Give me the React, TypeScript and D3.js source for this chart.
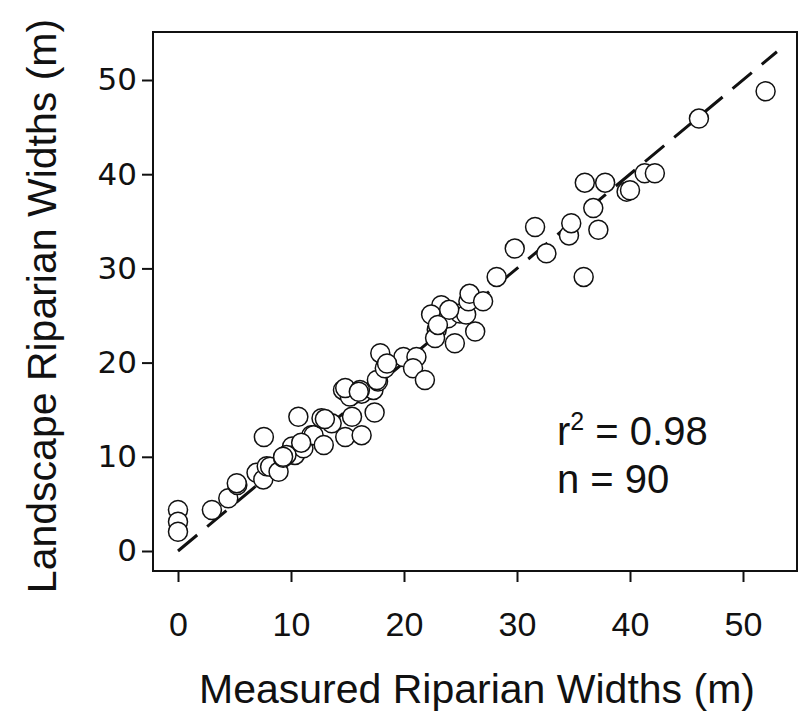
import React, { useRef, useEffect } from "react";
import * as d3 from "d3";

// measured (x) vs landscape (y) riparian widths
const measured = [
  0, 0, 0, 3.0, 4.45, 5.25, 5.2, 6.95, 7.55, 7.85,
  8.15, 8.9, 9.3, 10.1, 10.35, 11.1, 11.8, 12.0, 12.9, 12.7,
  10.65, 7.6, 13.6, 14.8, 15.4, 16.25, 17.4, 15.4, 14.6, 16.25,
  17.3, 17.7, 15.2, 14.8, 16.1, 17.6, 18.3, 17.9, 19.95, 21.1,
  20.8, 21.85, 18.5, 22.75, 22.9, 22.75, 23.3, 22.4, 23.9, 24.95,
  25.5, 24.5, 26.3, 25.7, 25.8, 27.0, 28.2, 29.8, 31.6, 32.6,
  34.6, 34.8, 35.9, 36.75, 37.2, 36.0, 37.8, 39.7, 40.0, 41.3,
  42.2, 46.1, 52.0, 9.6, 10.9, 9.3, 13.0, 16.0, 23.0, 24.0
];
const landscape = [
  4.35, 3.1, 2.05, 4.35, 5.6, 7.0, 7.2, 8.3, 7.6, 9.0,
  8.95, 8.4, 9.9, 11.1, 10.2, 10.9, 12.3, 12.3, 11.25, 14.1,
  14.25, 12.1, 13.55, 12.1, 14.25, 12.3, 14.7, 16.6, 17.1, 16.7,
  17.1, 18.0, 16.4, 17.3, 17.1, 18.15, 19.4, 21.0, 20.6, 20.6,
  19.4, 18.15, 19.9, 24.9, 23.5, 22.6, 26.1, 25.1, 24.7, 25.2,
  25.1, 22.05, 23.3, 26.5, 27.3, 26.5, 29.1, 32.1, 34.4, 31.6,
  33.5, 34.8, 29.1, 36.4, 34.1, 39.1, 39.1, 38.15, 38.3, 40.1,
  40.1, 45.9, 48.8, 10.2, 11.5, 10.0, 14.0, 16.9, 24.0, 25.6
];
const xTicks = [0, 10, 20, 30, 40, 50];
const yTicks = [0, 10, 20, 30, 40, 50];
const fitLine = [0, 53];

export default function App() {
  const svgRef = useRef(null);

  useEffect(() => {
    const svg = d3.select(svgRef.current);
    svg.selectAll("*").remove();

    const x = d3.scaleLinear().domain([0, 50]).range([178, 743]);
    const y = d3.scaleLinear().domain([0, 50]).range([551, 80]);

    // frame
    svg.append("rect")
      .attr("x", 153).attr("y", 32)
      .attr("width", 644).attr("height", 539)
      .attr("fill", "none").attr("stroke", "#111").attr("stroke-width", 2);

    // x axis
    const xAxis = svg.append("g")
      .attr("transform", "translate(0,571)")
      .call(d3.axisBottom(x).tickValues(xTicks).tickSize(11).tickSizeOuter(0).tickPadding(30));
    xAxis.select(".domain").remove();
    xAxis.selectAll("line").attr("stroke", "#111").attr("stroke-width", 2);
    xAxis.selectAll("text")
      .attr("fill", "#111")
      .style("font-family", "Liberation Sans, Arial, sans-serif")
      .style("font-size", "34px");

    // y axis
    const yAxis = svg.append("g")
      .attr("transform", "translate(153,0)")
      .call(d3.axisLeft(y).tickValues(yTicks).tickSize(11).tickSizeOuter(0).tickPadding(5));
    yAxis.select(".domain").remove();
    yAxis.selectAll("line").attr("stroke", "#111").attr("stroke-width", 2);
    yAxis.selectAll("text")
      .attr("fill", "#111")
      .style("font-family", "DejaVu Sans, sans-serif")
      .style("font-size", "31px");

    // 1:1 dashed line
    const line = d3.line()
      .x(d => x(d))
      .y(d => y(d));
    svg.append("path")
      .attr("d", line(fitLine))
      .attr("fill", "none")
      .attr("stroke", "#111")
      .attr("stroke-width", 3)
      .attr("stroke-dasharray", "25,13");

    // points
    svg.selectAll(".pt")
      .data(measured.map((m, i) => [m, landscape[i]]))
      .join("circle")
      .attr("class", "pt")
      .attr("cx", d => x(d[0]))
      .attr("cy", d => y(d[1]))
      .attr("r", 9.5)
      .attr("fill", "white")
      .attr("stroke", "#111")
      .attr("stroke-width", 1.5);

    // stats
    const st = svg.append("g")
      .style("font-family", "Liberation Sans, Arial, sans-serif")
      .attr("fill", "#111");
    const r2 = st.append("text").attr("x", 557).attr("y", 445).style("font-size", "40px");
    r2.append("tspan").text("r");
    r2.append("tspan").attr("dy", -15).style("font-size", "25px").text("2");
    r2.append("tspan").attr("dy", 15).text(" = 0.98");
    st.append("text").attr("x", 557).attr("y", 493).style("font-size", "40px").text("n = 90");

    // axis titles
    svg.append("text")
      .attr("x", 477).attr("y", 703)
      .attr("text-anchor", "middle")
      .attr("fill", "#111")
      .style("font-family", "Liberation Sans, Arial, sans-serif")
      .style("font-size", "41px")
      .text("Measured Riparian Widths (m)");

    svg.append("text")
      .attr("transform", "translate(56,306) rotate(-90)")
      .attr("text-anchor", "middle")
      .attr("fill", "#111")
      .style("font-family", "Liberation Sans, Arial, sans-serif")
      .style("font-size", "41px")
      .text("Landscape Riparian Widths (m)");
  }, []);

  return (
    <svg
      ref={svgRef}
      width={798}
      height={714}
      style={{ position: "absolute", left: 0, top: 0, background: "white" }}
    />
  );
}
